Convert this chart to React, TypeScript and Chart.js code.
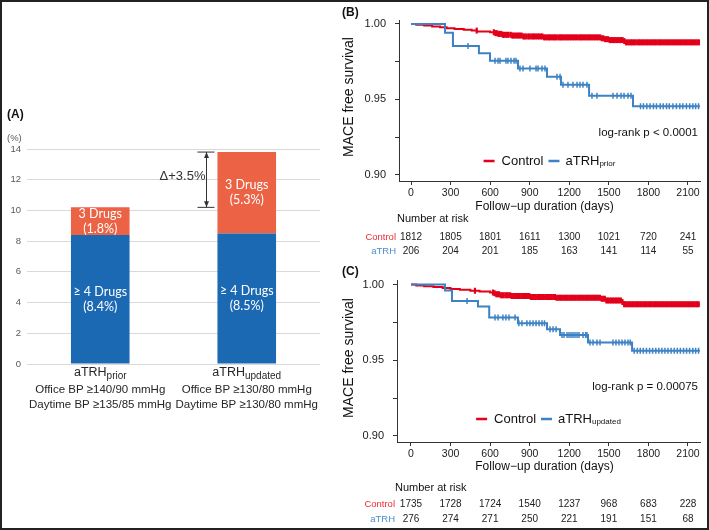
import React, { useEffect, useRef } from "react";
import { Chart, registerables } from "chart.js";
Chart.register(...registerables);

const SANS = '"Liberation Sans", Arial, sans-serif';
const CAL = 'Lato, "Noto Sans", sans-serif';

// ---------- Panel A data ----------
const barCategories = ["prior", "updated"];
const fourDrugs = [8.4, 8.5];
const threeDrugs = [1.8, 5.3];
const fourDrugPct = ["(8.4%)", "(8.5%)"];
const threeDrugPct = ["(1.8%)", "(5.3%)"];
const officeBP = ["Office BP ≥140/90 mmHg", "Office BP ≥130/80 mmHg"];
const daytimeBP = ["Daytime BP ≥135/85 mmHg", "Daytime BP ≥130/80 mmHg"];
const deltaLabel = "Δ+3.5%";

// ---------- Panel B data (aTRH prior) ----------
const ctrlPriorDays = [0, 40, 100, 160, 220, 270, 330, 400, 460, 500, 600, 640, 660, 690, 760, 850, 1000, 1440, 1470, 1500, 1610, 1625, 2190];
const ctrlPriorSurv = [1.0, 0.9994, 0.9989, 0.9983, 0.9978, 0.9972, 0.9967, 0.9961, 0.9956, 0.995, 0.9945, 0.9939, 0.9934, 0.9928, 0.9923, 0.9917, 0.9911, 0.9905, 0.9899, 0.9893, 0.9887, 0.9878, 0.9878];
const ctrlPriorCens = [498, 628, 641, 650, 663, 671, 684, 697, 705, 719, 731, 740, 756, 768, 777, 790, 803, 815, 826, 839, 852, 861, 874, 889, 898, 912, 925, 934, 947, 961, 972, 985, 996, 1009, 1021, 1033, 1046, 1055, 1069, 1082, 1093, 1104, 1118, 1131, 1140, 1153, 1166, 1178, 1190, 1203, 1214, 1227, 1239, 1250, 1264, 1277, 1288, 1299, 1312, 1325, 1337, 1349, 1360, 1373, 1386, 1397, 1410, 1421, 1434, 1446, 1458, 1471, 1483, 1494, 1507, 1519, 1532, 1544, 1556, 1568, 1581, 1593, 1604, 1617, 1630, 1642, 1655, 1667, 1679, 1690, 1703, 1716, 1728, 1739, 1751, 1764, 1776, 1789, 1801, 1813, 1826, 1838, 1850, 1862, 1875, 1887, 1899, 1912, 1924, 1936, 1949, 1961, 1973, 1986, 1998, 2010, 2023, 2035, 2047, 2060, 2072, 2085, 2097, 2109, 2122, 2134, 2146, 2159, 2171, 2183];
const trhPriorDays = [0, 258, 318, 515, 599, 811, 1031, 1137, 1350, 1683, 2190];
const trhPriorSurv = [1.0, 0.9942, 0.9854, 0.9806, 0.9757, 0.9705, 0.965, 0.9598, 0.9525, 0.9455, 0.9455];
const trhPriorCens = [432, 637, 660, 675, 720, 735, 758, 781, 796, 826, 849, 902, 948, 963, 993, 1016, 1107, 1130, 1152, 1190, 1228, 1259, 1281, 1304, 1334, 1372, 1410, 1531, 1562, 1592, 1615, 1645, 1668, 1740, 1762, 1788, 1812, 1838, 1861, 1889, 1912, 1937, 1958, 1986, 2012, 2038, 2061, 2088, 2113, 2137, 2158, 2180];
const riskCtrlPrior = [1812, 1805, 1801, 1611, 1300, 1021, 720, 241];
const riskTrhPrior = [206, 204, 201, 185, 163, 141, 114, 55];

// ---------- Panel C data (aTRH updated) ----------
const ctrlUpdDays = [0, 40, 100, 170, 240, 300, 370, 450, 520, 600, 625, 645, 670, 760, 900, 1100, 1440, 1480, 1600, 1615, 2190];
const ctrlUpdSurv = [1.0, 0.9994, 0.9988, 0.9983, 0.9977, 0.9971, 0.9965, 0.9959, 0.9954, 0.9948, 0.9942, 0.9936, 0.993, 0.9924, 0.9918, 0.9912, 0.9906, 0.9895, 0.9884, 0.987, 0.987];
const ctrlUpdCens = [485, 622, 634, 647, 656, 668, 681, 693, 702, 716, 728, 739, 752, 764, 776, 787, 800, 812, 823, 836, 849, 858, 871, 885, 896, 909, 922, 933, 945, 958, 970, 983, 994, 1006, 1019, 1031, 1043, 1054, 1067, 1080, 1091, 1103, 1116, 1128, 1139, 1151, 1164, 1176, 1188, 1201, 1213, 1225, 1237, 1249, 1262, 1274, 1286, 1298, 1310, 1323, 1335, 1347, 1359, 1371, 1384, 1396, 1408, 1420, 1432, 1445, 1457, 1469, 1481, 1493, 1506, 1518, 1530, 1542, 1555, 1567, 1579, 1591, 1603, 1616, 1628, 1640, 1653, 1665, 1677, 1689, 1702, 1714, 1726, 1738, 1750, 1763, 1775, 1787, 1800, 1812, 1824, 1837, 1849, 1861, 1873, 1886, 1898, 1910, 1923, 1935, 1947, 1959, 1972, 1984, 1996, 2009, 2021, 2033, 2046, 2058, 2070, 2083, 2095, 2107, 2120, 2132, 2144, 2157, 2169, 2181];
const trhUpdDays = [0, 258, 311, 508, 593, 811, 1031, 1130, 1342, 1676, 2190];
const trhUpdSurv = [1.0, 0.996, 0.9891, 0.9855, 0.9782, 0.9745, 0.9704, 0.9667, 0.9617, 0.9562, 0.9562];
const trhUpdCens = [425, 637, 660, 697, 720, 743, 789, 818, 841, 879, 902, 925, 948, 971, 993, 1012, 1054, 1077, 1100, 1145, 1160, 1183, 1198, 1213, 1228, 1243, 1259, 1274, 1304, 1324, 1334, 1357, 1380, 1410, 1433, 1531, 1554, 1577, 1600, 1622, 1645, 1662, 1692, 1716, 1738, 1761, 1785, 1809, 1832, 1856, 1879, 1902, 1925, 1948, 1972, 1996, 2019, 2042, 2066, 2089, 2112, 2136, 2158, 2180];
const riskCtrlUpd = [1735, 1728, 1724, 1540, 1237, 968, 683, 228];
const riskTrhUpd = [276, 274, 271, 250, 221, 191, 151, 68];

// ---------- axes ----------
const kmXTicks = [0, 300, 600, 900, 1200, 1500, 1800, 2100];
const kmYTicks = [0.9, 0.925, 0.95, 0.975, 1.0];
const kmYLabeled = [0.9, 0.95, 1.0];

const RED = "#e2001a";
const BLUE = "#3d82c4";
const RED_T = "#ee2a36";
const BLUE_T = "#4a8ed0";
const BAR_BLUE = "#1b68b3";
const BAR_ORANGE = "#eb6244";

function survAt(days: number[], surv: number[], t: number) {
  let v = surv[0];
  for (let i = 0; i < days.length; i++) if (days[i] <= t) v = surv[i];
  return v;
}

// ---------- Panel A ----------
const barTextPlugin = {
  id: "barText",
  afterDatasetsDraw(chart: any) {
    const ctx = chart.ctx;
    const ca = chart.chartArea;
    const y = chart.scales.y;
    ctx.save();
    ctx.textBaseline = "middle";
    ctx.textAlign = "center";
    ctx.fillStyle = "#ffffff";
    ctx.font = `12.5px ${CAL}`;
    chart.getDatasetMeta(0).data.forEach((el: any, i: number) => {
      const cy = (el.y + el.base) / 2;
      ctx.fillText("≥ 4 Drugs", el.x, cy - 7.5);
      ctx.fillText(fourDrugPct[i], el.x, cy + 7.5);
    });
    chart.getDatasetMeta(1).data.forEach((el: any, i: number) => {
      const cy = (el.y + el.base) / 2;
      ctx.fillText("3 Drugs", el.x, cy - 7.5);
      ctx.fillText(threeDrugPct[i], el.x, cy + 7.5);
    });

    // category labels
    ctx.fillStyle = "#262626";
    chart.getDatasetMeta(0).data.forEach((el: any, i: number) => {
      const cx = el.x;
      ctx.font = `12.5px ${SANS}`;
      const w1 = ctx.measureText("aTRH").width;
      ctx.font = `10px ${SANS}`;
      const w2 = ctx.measureText(barCategories[i]).width;
      const start = cx - (w1 + w2) / 2;
      ctx.textAlign = "left";
      ctx.font = `12.5px ${SANS}`;
      ctx.fillText("aTRH", start, ca.bottom + 9);
      ctx.font = `10px ${SANS}`;
      ctx.fillText(barCategories[i], start + w1, ca.bottom + 12);
      ctx.textAlign = "center";
      ctx.font = `11.5px ${SANS}`;
      ctx.fillText(officeBP[i], cx, ca.bottom + 26);
      ctx.fillText(daytimeBP[i], cx, ca.bottom + 41);
    });

    // bracket
    const topV = fourDrugs[1] + threeDrugs[1];
    const botV = fourDrugs[0] + threeDrugs[0];
    const yt = y.getPixelForValue(topV);
    const yb = y.getPixelForValue(botV);
    const bar2 = chart.getDatasetMeta(1).data[1];
    const bx = Math.round(bar2.x - bar2.width / 2 - 11) + 0.5;
    ctx.strokeStyle = "#333";
    ctx.fillStyle = "#333";
    ctx.lineWidth = 1;
    ctx.beginPath();
    ctx.moveTo(bx, yt);
    ctx.lineTo(bx, yb);
    ctx.moveTo(bx - 9, yt);
    ctx.lineTo(bx + 8, yt);
    ctx.moveTo(bx - 9, yb);
    ctx.lineTo(bx + 8, yb);
    ctx.stroke();
    ctx.beginPath();
    ctx.moveTo(bx, yt);
    ctx.lineTo(bx - 2.5, yt + 6);
    ctx.lineTo(bx + 2.5, yt + 6);
    ctx.closePath();
    ctx.moveTo(bx, yb);
    ctx.lineTo(bx - 2.5, yb - 6);
    ctx.lineTo(bx + 2.5, yb - 6);
    ctx.closePath();
    ctx.fill();
    ctx.font = `13px ${SANS}`;
    ctx.textAlign = "right";
    ctx.fillText(deltaLabel, bx - 1, (yt + yb) / 2 - 3);

    // panel tag and unit
    ctx.textAlign = "left";
    ctx.fillStyle = "#111";
    ctx.font = `bold 12px ${SANS}`;
    ctx.fillText("(A)", 7, 115);
    ctx.fillStyle = "#595959";
    ctx.font = `9.5px ${SANS}`;
    ctx.fillText("(%)", 7, 138.5);
    ctx.restore();
  },
};

function makeBarConfig(): any {
  return {
    type: "bar",
    data: {
      labels: barCategories,
      datasets: [
        { label: "≥ 4 Drugs", data: fourDrugs, backgroundColor: BAR_BLUE, barPercentage: 0.4, categoryPercentage: 1.0 },
        { label: "3 Drugs", data: threeDrugs, backgroundColor: BAR_ORANGE, barPercentage: 0.4, categoryPercentage: 1.0 },
      ],
    },
    options: {
      responsive: false,
      animation: false,
      events: [],
      layout: { padding: { left: 0, right: 30, top: 149, bottom: 0 } },
      plugins: { legend: { display: false }, tooltip: { enabled: false } },
      scales: {
        x: {
          stacked: true,
          grid: { display: false },
          border: { display: false },
          ticks: { display: false },
          afterFit: (s: any) => {
            s.height = 166;
          },
        },
        y: {
          stacked: true,
          min: 0,
          max: 14,
          ticks: { stepSize: 2, padding: 6, color: "#595959", font: { family: SANS, size: 9.5 } },
          grid: { color: "#d9d9d9", drawTicks: false, lineWidth: 1 },
          border: { display: false },
          afterFit: (s: any) => {
            s.width = 27;
          },
        },
      },
    },
    plugins: [barTextPlugin],
  };
}

// ---------- KM panels ----------
type Panel = {
  tag: string;
  sub: string;
  logrank: string;
  ctrlDays: number[];
  ctrlSurv: number[];
  ctrlCens: number[];
  trhDays: number[];
  trhSurv: number[];
  trhCens: number[];
  riskCtrl: number[];
  riskTrh: number[];
  L: any;
};

const panelB: Panel = {
  tag: "(B)",
  sub: "prior",
  logrank: "log-rank p < 0.0001",
  ctrlDays: ctrlPriorDays,
  ctrlSurv: ctrlPriorSurv,
  ctrlCens: ctrlPriorCens,
  trhDays: trhPriorDays,
  trhSurv: trhPriorSurv,
  trhCens: trhPriorCens,
  riskCtrl: riskCtrlPrior,
  riskTrh: riskTrhPrior,
  L: { left: 69, right: 370, top: 20, bottom: 181, xMin: -91, xMax: 2191, tagY: 13, yTitleY: 97, logY: 133, legY: 161, titleY: 207, narY: 219, ctrlY: 237, trhY: 251, rowX: 66 },
};
const panelC: Panel = {
  tag: "(C)",
  sub: "updated",
  logrank: "log-rank p = 0.00075",
  ctrlDays: ctrlUpdDays,
  ctrlSurv: ctrlUpdSurv,
  ctrlCens: ctrlUpdCens,
  trhDays: trhUpdDays,
  trhSurv: trhUpdSurv,
  trhCens: trhUpdCens,
  riskCtrl: riskCtrlUpd,
  riskTrh: riskTrhUpd,
  L: { left: 67, right: 370, top: 14, bottom: 177, xMin: -106, xMax: 2191, tagY: 7, yTitleY: 93, logY: 122, legY: 154, titleY: 202, narY: 223, ctrlY: 239, trhY: 254, rowX: 65 },
};

const KM_W = 379;
const KM_H = 265;

function kmTextPlugin(p: Panel) {
  return {
    id: "kmText",
    afterDraw(chart: any) {
      const { ctx, chartArea: ca } = chart;
      const xs = chart.scales.x;
      const L = p.L;
      ctx.save();
      ctx.textBaseline = "middle";
      ctx.fillStyle = "#111";
      ctx.textAlign = "left";
      ctx.font = `bold 12px ${SANS}`;
      ctx.fillText(p.tag, 12, L.tagY);

      ctx.save();
      ctx.translate(19, L.yTitleY);
      ctx.rotate(-Math.PI / 2);
      ctx.textAlign = "center";
      ctx.font = `14px ${SANS}`;
      ctx.fillText("MACE free survival", 0, 0);
      ctx.restore();

      ctx.textAlign = "right";
      ctx.font = `11.5px ${SANS}`;
      ctx.fillText(p.logrank, ca.right - 2, L.logY);

      // legend
      ctx.font = `13px ${SANS}`;
      const wCtrl = ctx.measureText("Control").width;
      const wA = ctx.measureText("aTRH").width;
      ctx.font = `8px ${SANS}`;
      const wSub = ctx.measureText(p.sub).width;
      const dash = 11;
      const total = dash + 7 + wCtrl + 5 + dash + 6 + wA + wSub;
      let x = (ca.left + ca.right) / 2 - total / 2;
      ctx.lineWidth = 2.5;
      ctx.strokeStyle = RED;
      ctx.beginPath();
      ctx.moveTo(x, L.legY);
      ctx.lineTo(x + dash, L.legY);
      ctx.stroke();
      x += dash + 7;
      ctx.textAlign = "left";
      ctx.font = `13px ${SANS}`;
      ctx.fillText("Control", x, L.legY);
      x += wCtrl + 5;
      ctx.strokeStyle = BLUE;
      ctx.beginPath();
      ctx.moveTo(x, L.legY);
      ctx.lineTo(x + dash, L.legY);
      ctx.stroke();
      x += dash + 6;
      ctx.fillText("aTRH", x, L.legY);
      x += wA;
      ctx.font = `8px ${SANS}`;
      ctx.fillText(p.sub, x, L.legY + 3);

      // x title
      ctx.textAlign = "center";
      ctx.font = `12px ${SANS}`;
      ctx.fillText("Follow−up duration (days)", xs.getPixelForValue(1050) - 5, L.titleY);

      // risk table
      ctx.textAlign = "left";
      ctx.font = `11px ${SANS}`;
      ctx.fillText("Number at risk", ca.left - 2, L.narY);
      ctx.textAlign = "right";
      ctx.font = `9.5px ${SANS}`;
      ctx.fillStyle = RED_T;
      ctx.fillText("Control", L.rowX, L.ctrlY);
      ctx.fillStyle = BLUE_T;
      ctx.fillText("aTRH", L.rowX, L.trhY);
      ctx.fillStyle = "#222";
      ctx.textAlign = "center";
      ctx.font = `10px ${SANS}`;
      kmXTicks.forEach((t, i) => {
        const px = xs.getPixelForValue(t);
        ctx.fillText(String(p.riskCtrl[i]), px, L.ctrlY);
        ctx.fillText(String(p.riskTrh[i]), px, L.trhY);
      });
      ctx.restore();
    },
  };
}

function makeKMConfig(p: Panel): any {
  const L = p.L;
  const curve = (d: number[], s: number[]) => d.map((x, i) => ({ x, y: s[i] }));
  const cens = (c: number[], d: number[], s: number[]) => c.map((x) => ({ x, y: survAt(d, s, x) }));
  const tickFont = { family: SANS, size: 10.5 };
  return {
    type: "line",
    data: {
      datasets: [
        { data: curve(p.trhDays, p.trhSurv), borderColor: BLUE, borderWidth: 2, stepped: "before", pointRadius: 0, fill: false, tension: 0 },
        { data: cens(p.trhCens, p.trhDays, p.trhSurv), showLine: false, pointStyle: "line", rotation: 90, pointRadius: 3, pointBorderColor: BLUE, pointBorderWidth: 1.5, pointBackgroundColor: BLUE },
        { data: curve(p.ctrlDays, p.ctrlSurv), borderColor: RED, borderWidth: 2, stepped: "before", pointRadius: 0, fill: false, tension: 0 },
        { data: cens(p.ctrlCens, p.ctrlDays, p.ctrlSurv), showLine: false, pointStyle: "line", rotation: 90, pointRadius: 3, pointBorderColor: RED, pointBorderWidth: 2.2, pointBackgroundColor: RED },
      ],
    },
    options: {
      responsive: false,
      animation: false,
      events: [],
      layout: { padding: { left: 0, right: KM_W - L.right, top: L.top, bottom: 0 } },
      plugins: { legend: { display: false }, tooltip: { enabled: false } },
      scales: {
        x: {
          type: "linear",
          min: L.xMin,
          max: L.xMax,
          afterBuildTicks: (s: any) => {
            s.ticks = kmXTicks.map((v) => ({ value: v }));
          },
          afterFit: (s: any) => {
            s.height = KM_H - L.bottom;
          },
          grid: { drawOnChartArea: false, drawTicks: true, tickLength: 4, color: "#333" },
          border: { display: true, color: "#333", width: 1 },
          ticks: { autoSkip: false, maxRotation: 0, padding: 2, color: "#1a1a1a", font: tickFont, callback: (v: any) => String(v) },
        },
        y: {
          type: "linear",
          min: 0.896,
          max: 1.0026,
          afterBuildTicks: (s: any) => {
            s.ticks = kmYTicks.map((v) => ({ value: v }));
          },
          afterFit: (s: any) => {
            s.width = L.left;
          },
          grid: { drawOnChartArea: false, drawTicks: true, tickLength: 4, color: "#333" },
          border: { display: true, color: "#333", width: 1 },
          ticks: {
            padding: 9,
            color: "#1a1a1a",
            font: { family: SANS, size: 11 },
            callback: (v: any) => (kmYLabeled.includes(v) ? Number(v).toFixed(2) : ""),
          },
        },
      },
    },
    plugins: [kmTextPlugin(p)],
  };
}

export default function App() {
  const aRef = useRef<HTMLCanvasElement>(null);
  const bRef = useRef<HTMLCanvasElement>(null);
  const cRef = useRef<HTMLCanvasElement>(null);
  useEffect(() => {
    const charts = [
      new Chart(aRef.current as HTMLCanvasElement, makeBarConfig()),
      new Chart(bRef.current as HTMLCanvasElement, makeKMConfig(panelB)),
      new Chart(cRef.current as HTMLCanvasElement, makeKMConfig(panelC)),
    ];
    return () => charts.forEach((c) => c.destroy());
  }, []);
  return (
    <div style={{ position: "absolute", left: 0, top: 0, width: 709, height: 530, background: "#fff", overflow: "hidden" }}>
      <canvas ref={aRef} width={350} height={530} style={{ position: "absolute", left: 0, top: 0, width: 350, height: 530 }} />
      <canvas ref={bRef} width={KM_W} height={KM_H} style={{ position: "absolute", left: 330, top: 0, width: KM_W, height: KM_H }} />
      <canvas ref={cRef} width={KM_W} height={KM_H} style={{ position: "absolute", left: 330, top: 265, width: KM_W, height: KM_H }} />
      <div style={{ position: "absolute", left: 0, top: 0, width: 709, height: 530, border: "2px solid #222", boxSizing: "border-box", pointerEvents: "none" }} />
    </div>
  );
}
